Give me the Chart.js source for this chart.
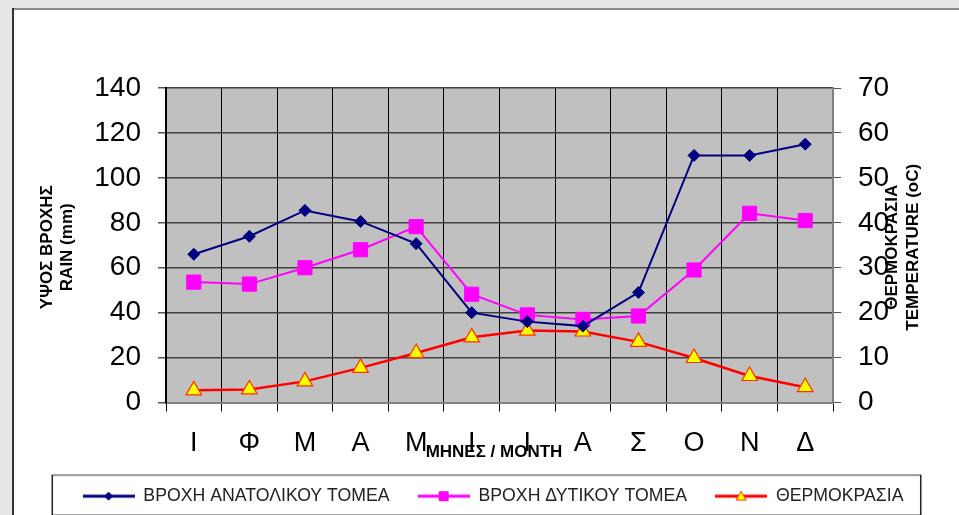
<!DOCTYPE html>
<html>
<head>
<meta charset="utf-8">
<title>Βροχή και θερμοκρασία</title>
<script src="https://cdn.jsdelivr.net/npm/chart.js@4.4.0/dist/chart.umd.min.js"></script>
<style>
    html, body { margin: 0; padding: 0; background: #e6e6e6; }
    #wrap { position: absolute; left: 0; top: 0; width: 959px; height: 515px; }
</style>
</head>
<body>
<div id="wrap"><canvas id="rainChart" width="959" height="515"></canvas></div>
<script>
// Données
const months = ['Ι', 'Φ', 'Μ', 'Α', 'Μ', 'Ι', 'Ι', 'Α', 'Σ', 'Ο', 'Ν', 'Δ'];
const rainEast = [66, 74, 85.5, 80.6, 70.7, 40, 36, 34, 49, 110, 110, 115];
const rainWest = [53.6, 52.7, 60, 68, 78.3, 48.2, 39, 37, 38.5, 59, 84.2, 81];
const temperature = [2.7, 2.9, 4.7, 7.7, 11, 14.5, 16, 15.8, 13.5, 9.9, 5.9, 3.4];
const rainTicks = [0, 20, 40, 60, 80, 100, 120, 140];
const tempTicks = [0, 10, 20, 30, 40, 50, 60, 70];

const seriesLabels = ['ΒΡΟΧΗ ΑΝΑΤΟΛΙΚΟΥ ΤΟΜΕΑ', 'ΒΡΟΧΗ ΔΥΤΙΚΟΥ ΤΟΜΕΑ', 'ΘΕΡΜΟΚΡΑΣΙΑ'];

document.addEventListener('DOMContentLoaded', function() {
    const FONT = "'Liberation Sans', Arial, sans-serif";
    Chart.defaults.font.family = FONT;
    Chart.defaults.color = '#000';

    const padLeft = 27;

    // petit dessin pour la légende : trait + marqueur au milieu
    function legendMarker(lineColor, shape, fill, stroke, r) {
        const c = document.createElement('canvas');
        c.width = 52;
        c.height = 16;
        const g = c.getContext('2d');
        g.strokeStyle = lineColor;
        g.lineWidth = 3;
        g.beginPath();
        g.moveTo(0, 8);
        g.lineTo(52, 8);
        g.stroke();
        g.fillStyle = fill;
        g.strokeStyle = stroke;
        g.lineWidth = 1;
        g.beginPath();
        if (shape === 'diamond') {
            g.moveTo(26, 8 - r); g.lineTo(26 + r, 8); g.lineTo(26, 8 + r); g.lineTo(26 - r, 8);
        } else if (shape === 'square') {
            g.rect(26 - r, 8 - r, 2 * r, 2 * r);
        } else {
            g.moveTo(26, 8 - r); g.lineTo(26 + r, 8 + r * 0.8); g.lineTo(26 - r, 8 + r * 0.8);
        }
        g.closePath();
        g.fill();
        g.stroke();
        return c;
    }

    const markers = [
        legendMarker('#000080', 'diamond', '#000080', '#000080', 4),
        legendMarker('#ff00ff', 'square', '#ff00ff', '#ff00ff', 4.5),
        legendMarker('#ff0000', 'triangle', '#ffff00', '#ff3300', 5)
    ];

    // fond gris + cadre blanc + fond de la zone de tracé
    const backgroundPlugin = {
        id: 'background',
        beforeDraw(chart) {
            const ctx = chart.ctx;
            const a = chart.chartArea;
            ctx.save();
            ctx.fillStyle = '#e6e6e6';
            ctx.fillRect(0, 0, chart.width, chart.height);
            ctx.fillStyle = '#ffffff';
            ctx.fillRect(13, 9, chart.width - 13, chart.height - 9);
            ctx.fillStyle = '#8a8a8a';
            ctx.fillRect(12, 8, chart.width - 12, 2);
            ctx.fillStyle = '#333';
            ctx.fillRect(12, 8, 2, chart.height - 8);
            ctx.fillStyle = '#c0c0c0';
            ctx.fillRect(a.left, a.top, a.right - a.left, a.bottom - a.top);
            ctx.restore();
        }
    };

    // titres des axes et cadre de la légende
    const titlesPlugin = {
        id: 'titles',
        afterDraw(chart) {
            const ctx = chart.ctx;
            const a = chart.chartArea;
            const midY = (a.top + a.bottom) / 2 + 2;
            ctx.save();
            ctx.fillStyle = '#000';
            ctx.font = 'bold 17px ' + FONT;
            ctx.textAlign = 'center';
            ctx.textBaseline = 'middle';

            function vertical(text, x) {
                ctx.save();
                ctx.translate(x, midY);
                ctx.rotate(-Math.PI / 2);
                ctx.fillText(text, 0, 0);
                ctx.restore();
            }
            vertical('ΥΨΟΣ ΒΡΟΧΗΣ', 47);
            vertical('RAIN (mm)', 67);
            vertical('ΘΕΡΜΟΚΡΑΣΙΑ', 892);
            vertical('TEMPERATURE (oC)', 913);

            ctx.fillText('ΜΗΝΕΣ / MONTH', 494, 452);

            // cadre de la légende
            const lg = chart.legend;
            if (lg && lg.legendHitBoxes && lg.legendHitBoxes.length) {
                const boxes = lg.legendHitBoxes;
                const first = boxes[0];
                const last = boxes[boxes.length - 1];
                const cy = first.top + first.height / 2;
                const x0 = first.left - 31;
                const x1 = last.left + last.width + 18;
                const y0 = cy - 21;
                const y1 = cy + 19;
                ctx.fillStyle = '#9a9a9a';
                ctx.fillRect(x0, y0 - 1, x1 - x0, 2);
                ctx.fillRect(x0, y1 - 1, x1 - x0, 2);
                ctx.fillStyle = '#222';
                ctx.fillRect(x0, y0, 1.5, y1 - y0);
                ctx.fillRect(x1 - 1.5, y0, 1.5, y1 - y0);
            }
            ctx.restore();
        }
    };

    const ctx = document.getElementById('rainChart');
    window.rainChart = new Chart(ctx.getContext('2d'), {
        type: 'line',
        data: {
            labels: months,
            datasets: [{
                label: seriesLabels[0],
                data: rainEast,
                yAxisID: 'y',
                borderColor: '#000080',
                backgroundColor: '#000080',
                borderWidth: 2,
                pointStyle: 'rectRot',
                pointRadius: 6,
                pointBorderWidth: 1,
                pointBorderColor: '#000080',
                pointBackgroundColor: '#000080',
                tension: 0
            }, {
                label: seriesLabels[1],
                data: rainWest,
                yAxisID: 'y',
                borderColor: '#ff00ff',
                backgroundColor: '#ff00ff',
                borderWidth: 2,
                pointStyle: 'rect',
                pointRadius: 10,
                pointBorderWidth: 1,
                pointBorderColor: '#ff00ff',
                pointBackgroundColor: '#ff00ff',
                tension: 0
            }, {
                label: seriesLabels[2],
                data: temperature,
                yAxisID: 'y1',
                borderColor: '#ff0000',
                backgroundColor: '#ffff00',
                borderWidth: 2.5,
                pointStyle: 'triangle',
                pointRadius: 9,
                pointBorderWidth: 1.2,
                pointBorderColor: '#ff3300',
                pointBackgroundColor: '#ffff00',
                tension: 0
            }]
        },
        options: {
            responsive: false,
            animation: false,
            layout: {
                padding: { left: padLeft, right: 0, top: 88, bottom: 0 }
            },
            scales: {
                x: {
                    offset: true,
                    grid: { offset: true, color: '#000', lineWidth: 1, tickLength: 9, tickColor: '#000' },
                    border: { color: '#808080', width: 2 },
                    ticks: { font: { size: 27 }, color: '#000', padding: 16, maxRotation: 0, autoSkip: false },
                    afterFit: function(scale) { scale.height = 56.8; }
                },
                y: {
                    position: 'left',
                    min: 0,
                    max: 140,
                    afterBuildTicks: function(scale) { scale.ticks = rainTicks.map(v => ({ value: v })); },
                    grid: { color: '#404040', lineWidth: 1.5, tickLength: 8, tickColor: '#555' },
                    border: { color: '#000', width: 2 },
                    ticks: { font: { size: 28 }, color: '#000', padding: 17 },
                    afterFit: function(scale) { scale.width = 166 - padLeft; }
                },
                y1: {
                    position: 'right',
                    min: 0,
                    max: 70,
                    afterBuildTicks: function(scale) { scale.ticks = tempTicks.map(v => ({ value: v })); },
                    grid: { drawOnChartArea: false, tickLength: 8, tickColor: '#555' },
                    border: { color: '#808080', width: 2 },
                    ticks: { font: { size: 28 }, color: '#000', padding: 17 },
                    afterFit: function(scale) { scale.width = 126; }
                }
            },
            plugins: {
                tooltip: { enabled: false },
                legend: {
                    position: 'bottom',
                    labels: {
                        usePointStyle: true,
                        pointStyleWidth: 52,
                        padding: 28,
                        color: '#222',
                        font: { size: 17.7 },
                        generateLabels: function(chart) {
                            return chart.data.datasets.map((ds, i) => ({
                                text: ds.label,
                                pointStyle: markers[i],
                                datasetIndex: i,
                                hidden: false,
                                lineWidth: 0,
                                fontColor: '#222'
                            }));
                        }
                    }
                }
            }
        },
        plugins: [backgroundPlugin, titlesPlugin]
    });
});
</script>
</body>
</html>
